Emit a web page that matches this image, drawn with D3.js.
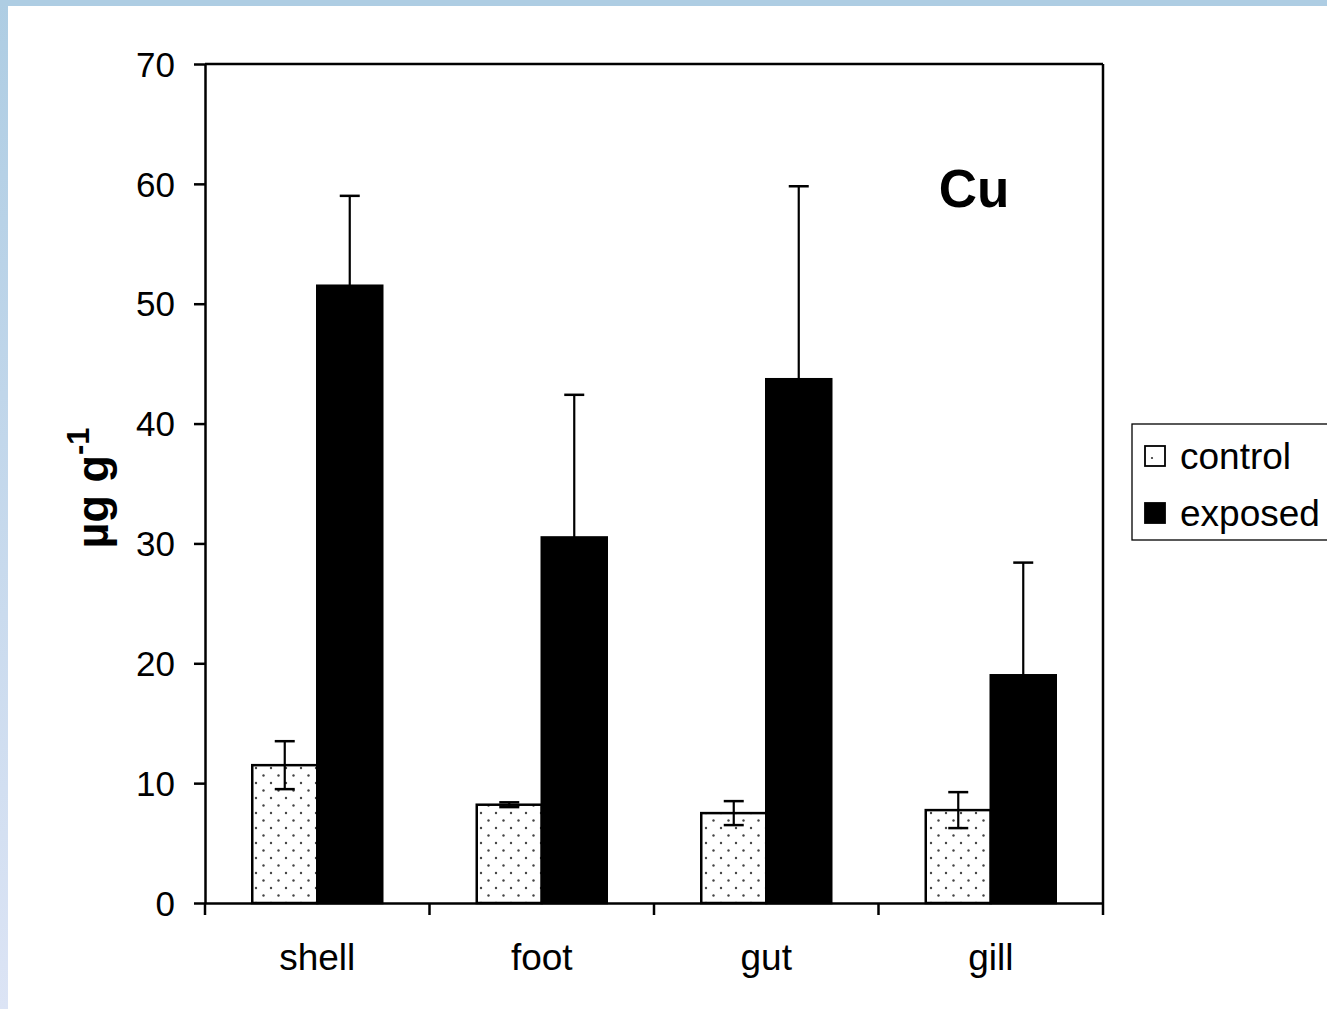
<!DOCTYPE html>
<html><head><meta charset="utf-8">
<script src="https://cdn.jsdelivr.net/npm/d3@7"></script>
<style>html,body{margin:0;padding:0;background:#fff;overflow:hidden}</style>
</head><body>
<svg id="c" width="1327" height="1009"></svg>
<script>
const categories = ["shell", "foot", "gut", "gill"];
const seriesNames = ["control", "exposed"];
const controlMean = [11.5, 8.2, 7.5, 7.75];
const controlErr  = [2.0, 0.2, 1.0, 1.5];
const exposedMean = [51.5, 30.5, 43.7, 19.0];
const exposedErr  = [7.5, 11.9, 16.1, 9.4];
const yTicks = [0, 10, 20, 30, 40, 50, 60, 70];

const svg = d3.select("#c");
const font = "'Liberation Sans', Arial, sans-serif";

// background frame
const defs = svg.append("defs");
const lg = defs.append("linearGradient").attr("id","lg").attr("x1",0).attr("y1",0).attr("x2",0).attr("y2",1);
lg.append("stop").attr("offset","0%").attr("stop-color","#aecde3");
lg.append("stop").attr("offset","100%").attr("stop-color","#dce4f5");
svg.append("rect").attr("x",0).attr("y",0).attr("width",1327).attr("height",1009).attr("fill","url(#lg)");
svg.append("rect").attr("x",0).attr("y",0).attr("width",1327).attr("height",6).attr("fill","#aecde3");
svg.append("rect").attr("x",8).attr("y",6).attr("width",1319).attr("height",1003).attr("fill","#fff");

const pat = defs.append("pattern").attr("id","dots").attr("patternUnits","userSpaceOnUse")
  .attr("width",15).attr("height",15).attr("x",253).attr("y",0);
pat.append("rect").attr("width",15).attr("height",15).attr("fill","#fff");
pat.append("circle").attr("cx",3).attr("cy",3).attr("r",1.2).attr("fill","#444");
pat.append("circle").attr("cx",10.5).attr("cy",10.5).attr("r",1.2).attr("fill","#444");

const L = 205, R = 1103, T = 64, B = 903;
const x = d3.scaleBand().domain(categories).range([L, R]).paddingInner(0).paddingOuter(0);
const y = d3.scaleLinear().domain([0, 70]).range([B, T]);
const bw = 65;

const data = categories.map((c, i) => ({c, vals: [
  {s: "control", m: controlMean[i], e: controlErr[i]},
  {s: "exposed", m: exposedMean[i], e: exposedErr[i]}
]}));

const g = svg.append("g");
data.forEach(d => {
  const cx = x(d.c) + x.bandwidth() / 2;
  d.vals.forEach((v, j) => {
    const x0 = cx - bw + j * bw;
    g.append("rect").attr("x", x0).attr("y", y(v.m)).attr("width", bw).attr("height", B - y(v.m))
      .attr("fill", v.s === "control" ? "url(#dots)" : "#000")
      .attr("stroke", "#000").attr("stroke-width", 2.5);
    const ex = x0 + bw / 2;
    const top = y(v.m + v.e), bot = y(v.m - v.e);
    g.append("line").attr("x1", ex).attr("x2", ex).attr("y1", top).attr("y2", bot).attr("stroke", "#000").attr("stroke-width", 2.2);
    g.append("line").attr("x1", ex - 10).attr("x2", ex + 10).attr("y1", top).attr("y2", top).attr("stroke", "#000").attr("stroke-width", 2.5);
    g.append("line").attr("x1", ex - 10).attr("x2", ex + 10).attr("y1", bot).attr("y2", bot).attr("stroke", "#000").attr("stroke-width", 2.5);
  });
});

// frame top and right
svg.append("line").attr("x1", L).attr("x2", R).attr("y1", T).attr("y2", T).attr("stroke", "#000").attr("stroke-width", 2.5);
svg.append("line").attr("x1", R).attr("x2", R).attr("y1", T).attr("y2", B).attr("stroke", "#000").attr("stroke-width", 2.5);

// y axis
const ya = svg.append("g").attr("transform", `translate(${L},0)`)
  .call(d3.axisLeft(y).tickValues(yTicks).tickSize(11).tickPadding(19).tickSizeOuter(0));
ya.select(".domain").attr("stroke-width", 2.5);
ya.selectAll(".tick line").attr("stroke-width", 2.5);
ya.selectAll("text").attr("font-family", font).attr("font-size", 35).attr("fill", "#000").attr("dy", "0.35em");

// x axis
const xa = svg.append("g").attr("transform", `translate(0,${B})`)
  .call(d3.axisBottom(x).tickSize(0).tickPadding(0).tickSizeOuter(0));
xa.select(".domain").attr("stroke-width", 2.5);
xa.selectAll("text").attr("font-family", font).attr("font-size", 37).attr("fill", "#000").attr("dy", 0).attr("y", 67);
const bounds = categories.map(c => x(c)).concat([R]);
svg.append("g").selectAll("line").data(bounds).join("line")
  .attr("x1", d => d).attr("x2", d => d).attr("y1", B).attr("y2", B + 12).attr("stroke", "#000").attr("stroke-width", 2.5);

// y label
const yl = svg.append("text").attr("transform", "translate(108,488) rotate(-90)").attr("text-anchor", "middle")
  .attr("font-family", font).attr("font-size", 45).attr("font-weight", "bold");
yl.append("tspan").text("µg g");
yl.append("tspan").attr("dy", -19).attr("font-size", 31).text("-1");

// Cu
svg.append("text").attr("x", 974).attr("y", 207).attr("text-anchor", "middle").attr("font-family", font)
  .attr("font-size", 53).attr("font-weight", "bold").text("Cu");

// legend
const lgd = svg.append("g");
lgd.append("rect").attr("x", 1132).attr("y", 424).attr("width", 210).attr("height", 116).attr("fill", "#fff").attr("stroke", "#000").attr("stroke-width", 1.3);
const legendY = [456, 513];
seriesNames.forEach((s, i) => {
  lgd.append("rect").attr("x", 1145).attr("y", legendY[i] - 10).attr("width", 20).attr("height", 20)
    .attr("fill", s === "control" ? "#fff" : "#000").attr("stroke", "#000").attr("stroke-width", 1.8);
  if (s === "control") lgd.append("circle").attr("cx", 1152).attr("cy", legendY[i] + 2).attr("r", 1.1).attr("fill", "#333");
  lgd.append("text").attr("x", 1180).attr("y", legendY[i]).attr("dy", "0.35em").attr("font-family", font).attr("font-size", 37).text(s);
});
</script>
</body></html>
